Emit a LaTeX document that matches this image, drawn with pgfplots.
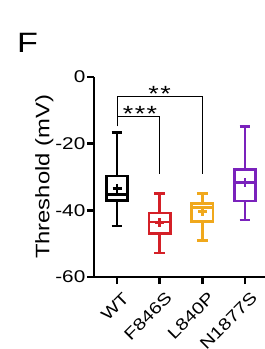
\documentclass[border=0pt]{standalone}
\usepackage{fontspec}
\setmainfont{Liberation Sans}[FakeStretch=1.22]
\usepackage{pgfplots}
\pgfplotsset{compat=1.18}
\usepgfplotslibrary{statistics}
\definecolor{cRed}{HTML}{D42027}
\definecolor{cGold}{HTML}{F0A81C}
\definecolor{cPurple}{HTML}{7A22BC}
\begin{document}
\begin{tikzpicture}
\path[use as bounding box] (0,0) rectangle (265bp,349bp);
\clip (0,0) rectangle (265bp,349bp);
\node[anchor=south west, inner sep=0pt, font=\fontsize{28bp}{30bp}\selectfont] at (17bp,296bp) {F};
\begin{axis}[
  at={(94bp,72bp)}, anchor=south west,
  scale only axis, width=171bp, height=200bp,
  xmin=-0.54, xmax=3.47, ymin=-60, ymax=0,
  clip=false,
  axis x line=bottom, axis y line=left,
  axis line style={line width=2.8bp, -},
  every tick/.style={line width=2.8bp, black},
  tick align=outside, major tick length=7bp,
  xtick={0,1,2,3}, xticklabels={WT,F846S,L840P,N1877S},
  x tick label style={xshift=5bp, yshift=-7bp, rotate=45, anchor=north east, inner sep=0bp, font=\fontsize{16.5bp}{18bp}\selectfont},
  ytick={-60,-40,-20,0}, yticklabels={-60,-40,-20,0},
  y tick label style={font=\fontsize{17bp}{19bp}\selectfont, inner sep=1.5bp},
  ylabel={Threshold (mV)},
  ylabel style={at={(axis description cs:-0.29,0.5)}, anchor=center, font=\fontsize{19.5bp}{21bp}\selectfont},
  boxplot/draw direction=y,
  boxplot/every average/.style={/tikz/mark=+, /tikz/mark size=4.5bp, /tikz/mark options={line width=2.4bp}},
]
\addplot+[black, line width=2.8bp, solid, mark=none, boxplot prepared={draw position=0, box extend=0.5, whisker extend=0.25,
  lower whisker=-44.7, lower quartile=-37.0, median=-35.2, upper quartile=-29.7, upper whisker=-16.6, average=-33.4}] coordinates {};
\addplot+[cRed, line width=2.8bp, solid, mark=none, boxplot prepared={draw position=1, box extend=0.5, whisker extend=0.25,
  lower whisker=-52.8, lower quartile=-47.0, median=-43.5, upper quartile=-40.8, upper whisker=-35.0, average=-43.7}] coordinates {};
\addplot+[cGold, line width=2.8bp, solid, mark=none, boxplot prepared={draw position=2, box extend=0.5, whisker extend=0.25,
  lower whisker=-49.0, lower quartile=-43.4, median=-39.2, upper quartile=-38.0, upper whisker=-35.0, average=-40.4}] coordinates {};
\addplot+[cPurple, line width=2.8bp, solid, mark=none, boxplot prepared={draw position=3, box extend=0.5, whisker extend=0.25,
  lower whisker=-42.9, lower quartile=-37.2, median=-31.7, upper quartile=-27.8, upper whisker=-14.8, average=-31.7}] coordinates {};
% significance brackets
\addplot[black, line width=0.9bp, mark=none] coordinates {(0,-14.8) (0,-5.9) (2,-5.9) (2,-29)};
\addplot[black, line width=0.9bp, mark=none] coordinates {(0,-11.8) (1,-11.8) (1,-29)};
\node[anchor=base, inner sep=0pt, font=\fontsize{22bp}{24bp}\selectfont] at (axis cs:0.54,-13.4) {*\hspace{1.5bp}*\hspace{1.5bp}*};
\node[anchor=base, inner sep=0pt, font=\fontsize{22bp}{24bp}\selectfont] at (axis cs:1.0,-7.4) {*\hspace{1.5bp}*};
\end{axis}
\end{tikzpicture}
\end{document}
